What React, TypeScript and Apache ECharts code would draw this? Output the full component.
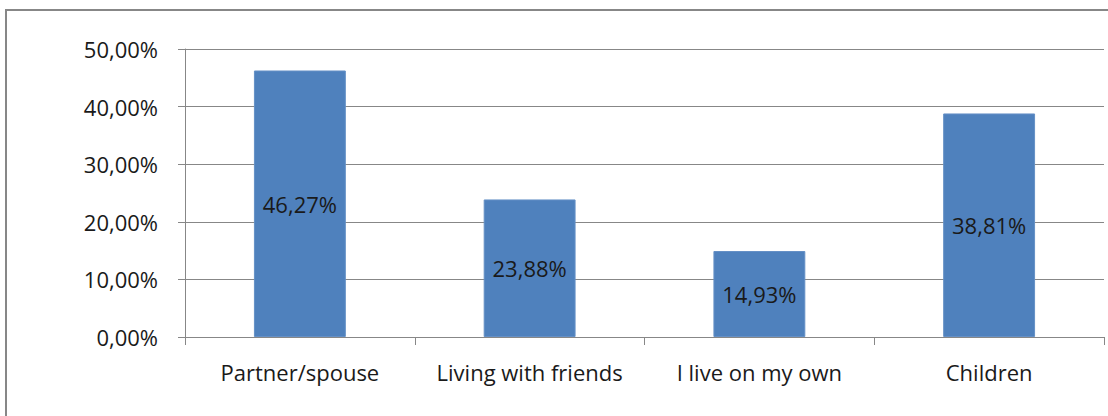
import React, { useEffect, useRef } from "react";
import * as echarts from "echarts";

const categories = ["Partner/spouse", "Living with friends", "I live on my own", "Children"];
const values = [46.27, 23.88, 14.93, 38.81];
const yTicks = [0, 10, 20, 30, 40, 50];

const fmt = (v: number) => v.toFixed(2).replace(".", ",") + "%";
const FONT = "'Open Sans', 'Noto Sans', sans-serif";

export default function App() {
  const ref = useRef<HTMLDivElement>(null);
  useEffect(() => {
    document.body.style.margin = "0";
    const chart = echarts.init(ref.current!, null, { renderer: "svg" });
    chart.setOption({
      animation: false,
      backgroundColor: "#ffffff",
      graphic: [
        {
          type: "rect",
          shape: { x: 6, y: 10, width: 1120, height: 430 },
          style: { fill: "none", stroke: "#878787", lineWidth: 2 },
          silent: true,
        },
      ],
      grid: { left: 185, right: 4, top: 49, bottom: 79, containLabel: false },
      xAxis: {
        type: "category",
        data: categories,
        axisLine: { lineStyle: { color: "#878787", width: 1 } },
        axisTick: { show: true, length: 8, alignWithLabel: false, interval: 0, lineStyle: { color: "#878787" } },
        axisLabel: {
          color: "#1a1a1a",
          fontFamily: FONT,
          fontSize: 22,
          margin: 24,
          interval: 0,
          hideOverlap: false,
        },
      },
      yAxis: {
        type: "value",
        min: yTicks[0],
        max: yTicks[yTicks.length - 1],
        interval: 10,
        axisLine: { show: true, lineStyle: { color: "#878787", width: 1 } },
        axisTick: { show: true, length: 7, lineStyle: { color: "#878787" } },
        splitLine: { show: true, lineStyle: { color: "#878787", width: 1 } },
        axisLabel: {
          color: "#1a1a1a",
          fontFamily: FONT,
          fontSize: 22,
          margin: 27,
          formatter: (v: number) => fmt(v),
        },
      },
      series: [
        {
          type: "bar",
          data: values,
          barWidth: "40%",
          itemStyle: { color: "#4F81BD", borderColor: "#6590C6", borderWidth: 1 },
          label: {
            show: true,
            position: "inside",
            color: "#1a1a1a",
            fontFamily: FONT,
            fontSize: 22,
            formatter: (p: any) => fmt(p.value),
          },
        },
      ],
    });
    return () => chart.dispose();
  }, []);
  return (
    <div
      ref={ref}
      style={{ position: "absolute", left: 0, top: 0, width: 1108, height: 416 }}
    />
  );
}
